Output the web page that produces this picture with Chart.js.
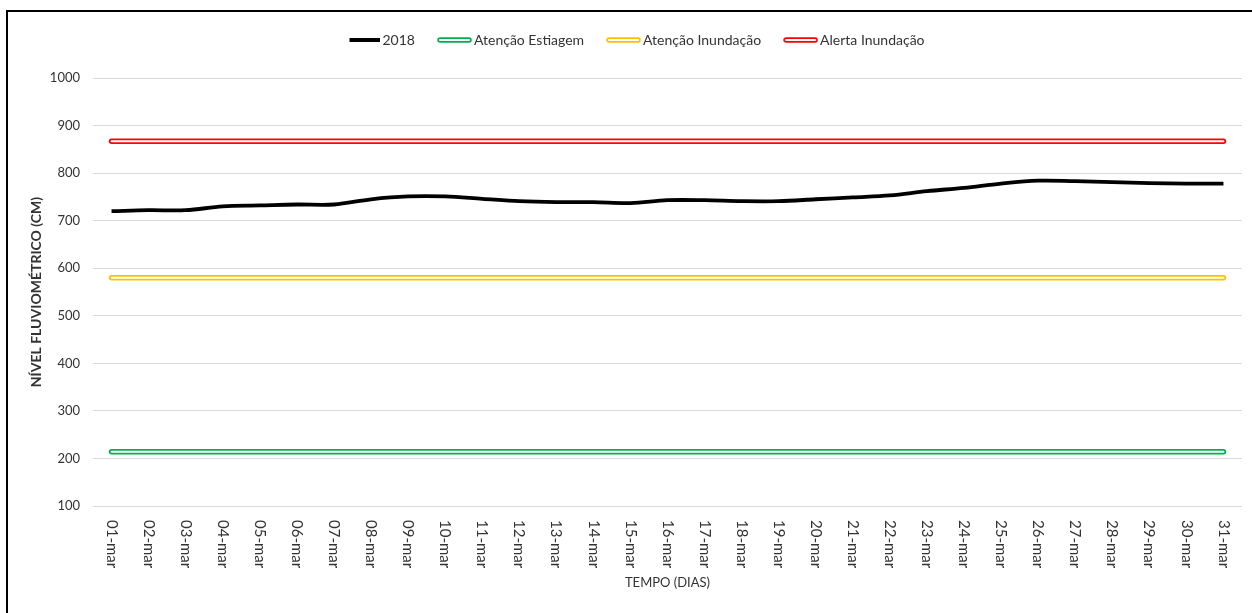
<!DOCTYPE html>
<html lang="pt-BR">
<head>
<meta charset="utf-8">
<title>Nível fluviométrico - março 2018</title>
<script src="https://cdn.jsdelivr.net/npm/chart.js@4.4.1/dist/chart.umd.min.js"></script>
<style>
  html, body { margin: 0; padding: 0; background: #fff; overflow: hidden; }
  #moldura { position: absolute; left: 6px; top: 10px; width: 1400px; height: 800px; border: 2px solid #000; }
  #caixa { position: absolute; left: 0; top: 0; width: 1252px; height: 613px; }
</style>
</head>
<body>
<div id="moldura"></div>
<div id="caixa"><canvas id="graficoNivel"></canvas></div>
<script>
// Dias de março (rótulos do eixo X)
const dias = ['01-mar', '02-mar', '03-mar', '04-mar', '05-mar', '06-mar', '07-mar', '08-mar',
  '09-mar', '10-mar', '11-mar', '12-mar', '13-mar', '14-mar', '15-mar', '16-mar', '17-mar',
  '18-mar', '19-mar', '20-mar', '21-mar', '22-mar', '23-mar', '24-mar', '25-mar', '26-mar',
  '27-mar', '28-mar', '29-mar', '30-mar', '31-mar'];

// Nível do rio em 2018 (cm)
const nivel2018 = [720, 722, 722, 730, 732, 734, 734, 745, 751, 751, 746, 741, 739, 739, 737,
  743, 743, 741, 741, 745, 749, 753, 762, 769, 778, 784, 783, 781, 779, 778, 778];

// Cotas de referência (cm)
const nomesCotas = ['Atenção Estiagem', 'Atenção Inundação', 'Alerta Inundação'];
const valoresCotas = [214, 580, 867];
const coresCotas = ['#00B050', '#FFC000', '#FF0000'];

// Escala Y
const yMin = 100, yMax = 1000, yPasso = 100;

const fonte = 'Lato';
const corTexto = '#333333';

// Desenha a amostra da legenda (linha cheia ou linha contornada)
function amostraLegenda(cor, contornada) {
  const c = document.createElement('canvas');
  c.width = 40;
  c.height = 10;
  const g = c.getContext('2d');
  if (contornada) {
    g.lineCap = 'round';
    g.strokeStyle = cor;
    g.lineWidth = 5.5;
    g.beginPath(); g.moveTo(8, 5); g.lineTo(37, 5); g.stroke();
    g.strokeStyle = '#fff';
    g.lineWidth = 2;
    g.beginPath(); g.moveTo(8, 5); g.lineTo(37, 5); g.stroke();
  } else {
    g.fillStyle = cor;
    g.fillRect(9, 3, 31, 4);
  }
  return c;
}

// Datasets: o primeiro fica por cima
let conjuntos = [{
  label: '2018',
  data: nivel2018,
  borderColor: '#000',
  borderWidth: 3.8,
  tension: 0.35,
  pointRadius: 0,
  fill: false
}];
// miolo branco das cotas (efeito de linha contornada)
nomesCotas.forEach((nome, i) => {
  conjuntos.push({
    label: nome + '_miolo',
    data: [{ x: dias[0], y: valoresCotas[i] }, { x: dias[dias.length - 1], y: valoresCotas[i] }],
    borderColor: '#fff',
    borderWidth: 2,
    borderCapStyle: 'round',
    pointRadius: 0,
    fill: false
  });
});
nomesCotas.forEach((nome, i) => {
  conjuntos.push({
    label: nome,
    data: [{ x: dias[0], y: valoresCotas[i] }, { x: dias[dias.length - 1], y: valoresCotas[i] }],
    borderColor: coresCotas[i],
    borderWidth: 5.5,
    borderCapStyle: 'round',
    pointRadius: 0,
    fill: false
  });
});

// Rótulos do eixo X girados 90° no sentido horário
const rotulosX = {
  id: 'rotulosX',
  afterDraw(chart) {
    const ctx = chart.ctx;
    const x = chart.scales.x;
    ctx.save();
    ctx.font = '15px ' + fonte;
    ctx.fillStyle = corTexto;
    ctx.textAlign = 'left';
    ctx.textBaseline = 'middle';
    dias.forEach((d, i) => {
      ctx.save();
      ctx.translate(x.getPixelForValue(i), x.top + 14);
      ctx.rotate(Math.PI / 2);
      ctx.fillText(d, 0, 0);
      ctx.restore();
    });
    ctx.restore();
  }
};

// Espaço extra entre a legenda e a área do gráfico
const espacoLegenda = {
  id: 'espacoLegenda',
  afterInit(chart) {
    const fitOriginal = chart.legend.fit;
    chart.legend.fit = function () {
      fitOriginal.call(this);
      this.height += 21;
    };
  }
};

const ctx = document.getElementById('graficoNivel').getContext('2d');
new Chart(ctx, {
  type: 'line',
  data: { labels: dias, datasets: conjuntos },
  plugins: [espacoLegenda, rotulosX],
  options: {
    responsive: true,
    maintainAspectRatio: false,
    animation: false,
    layout: { padding: { left: 28, right: 10, top: 11, bottom: 0 } },
    scales: {
      x: {
        type: 'category',
        offset: true,
        grid: { display: false },
        border: { display: false },
        ticks: { display: false },
        title: {
          display: true,
          text: 'TEMPO (DIAS)',
          color: corTexto,
          font: { family: fonte, size: 13 },
          padding: { top: 0, bottom: 22 }
        },
        afterFit(scale) { scale.height = 107; }
      },
      y: {
        min: yMin,
        max: yMax,
        ticks: {
          stepSize: yPasso,
          color: corTexto,
          padding: 13,
          font: { family: fonte, size: 13 },
          callback: (v) => String(v)
        },
        grid: { color: '#d9d9d9', lineWidth: 1, drawTicks: false },
        border: { display: false },
        title: {
          display: true,
          text: 'NÍVEL FLUVIOMÉTRICO (CM)',
          color: corTexto,
          font: { family: fonte, size: 14, weight: 'bold' },
          padding: { top: 0, bottom: 0 }
        },
        afterFit(scale) { scale.width = 65; }
      }
    },
    plugins: {
      tooltip: { enabled: false },
      legend: {
        display: true,
        position: 'top',
        labels: {
          color: corTexto,
          font: { family: fonte, size: 14 },
          padding: 22,
          usePointStyle: true,
          pointStyleWidth: 30,
          generateLabels() {
            const itens = [{ text: '2018', pointStyle: amostraLegenda('#000', false) }];
            nomesCotas.forEach((nome, i) => {
              itens.push({ text: nome, pointStyle: amostraLegenda(coresCotas[i], true) });
            });
            return itens.map((it, i) => Object.assign(it, {
              fillStyle: 'transparent', strokeStyle: 'transparent', lineWidth: 0,
              fontColor: corTexto, hidden: false, datasetIndex: i
            }));
          }
        }
      }
    }
  }
});
</script>
</body>
</html>
